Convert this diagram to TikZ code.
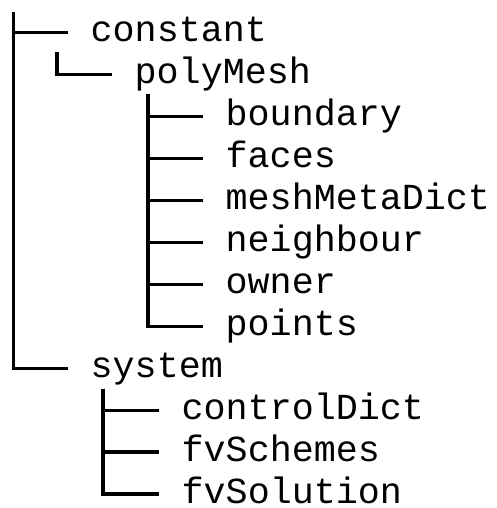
\documentclass[tikz,border=0pt]{standalone}
\usepackage{fontspec}
\setmonofont{Liberation Mono}
\usetikzlibrary{positioning}
\tikzset{
  entry/.style={anchor=base west,inner sep=0pt,font=\ttfamily\fontsize{36.7}{44}\selectfont},
  tree/.style={draw=black,line width=3.2pt},
}
\begin{document}
\begin{tikzpicture}[x=1pt,y=-1pt]
  \useasboundingbox (0,0) rectangle (497,508);
  % branch tops
  \coordinate (trunk) at (13.5,12);
  \coordinate (meshtop) at (57,52.5);
  \coordinate (meshkids) at (148,94.5);
  \coordinate (syskids) at (103,388.5);

  \node[entry] (constant) at (90.5,42) {constant};
  \node[entry] (polyMesh) at (134.5,84) {polyMesh};
  \node[entry] (boundary) at (225.5,125.9) {boundary};
  \node[entry] (faces) at (225.5,167.9) {faces};
  \node[entry] (meshMetaDict) at (225.5,209.8) {meshMetaDict};
  \node[entry] (neighbour) at (225.5,251.8) {neighbour};
  \node[entry] (owner) at (225.5,293.7) {owner};
  \node[entry] (points) at (225.5,335.7) {points};
  \node[entry] (system) at (90.5,377.6) {system};
  \node[entry] (controlDict) at (181.5,419.6) {controlDict};
  \node[entry] (fvSchemes) at (181.5,461.5) {fvSchemes};
  \node[entry] (fvSolution) at (181.5,503.5) {fvSolution};

  \draw[tree] (trunk) |- ([shift={(-22.5,-9.5)}]constant.base west);
  \draw[tree] (trunk) |- ([shift={(-22.5,-9.5)}]system.base west);
  \draw[tree] (meshtop) |- ([shift={(-22.5,-9.5)}]polyMesh.base west);
  \foreach \f in {boundary,faces,meshMetaDict,neighbour,owner,points}
    \draw[tree] (meshkids) |- ([shift={(-22.5,-9.5)}]\f.base west);
  \foreach \f in {controlDict,fvSchemes,fvSolution}
    \draw[tree] (syskids) |- ([shift={(-22.5,-9.5)}]\f.base west);
\end{tikzpicture}
\end{document}
